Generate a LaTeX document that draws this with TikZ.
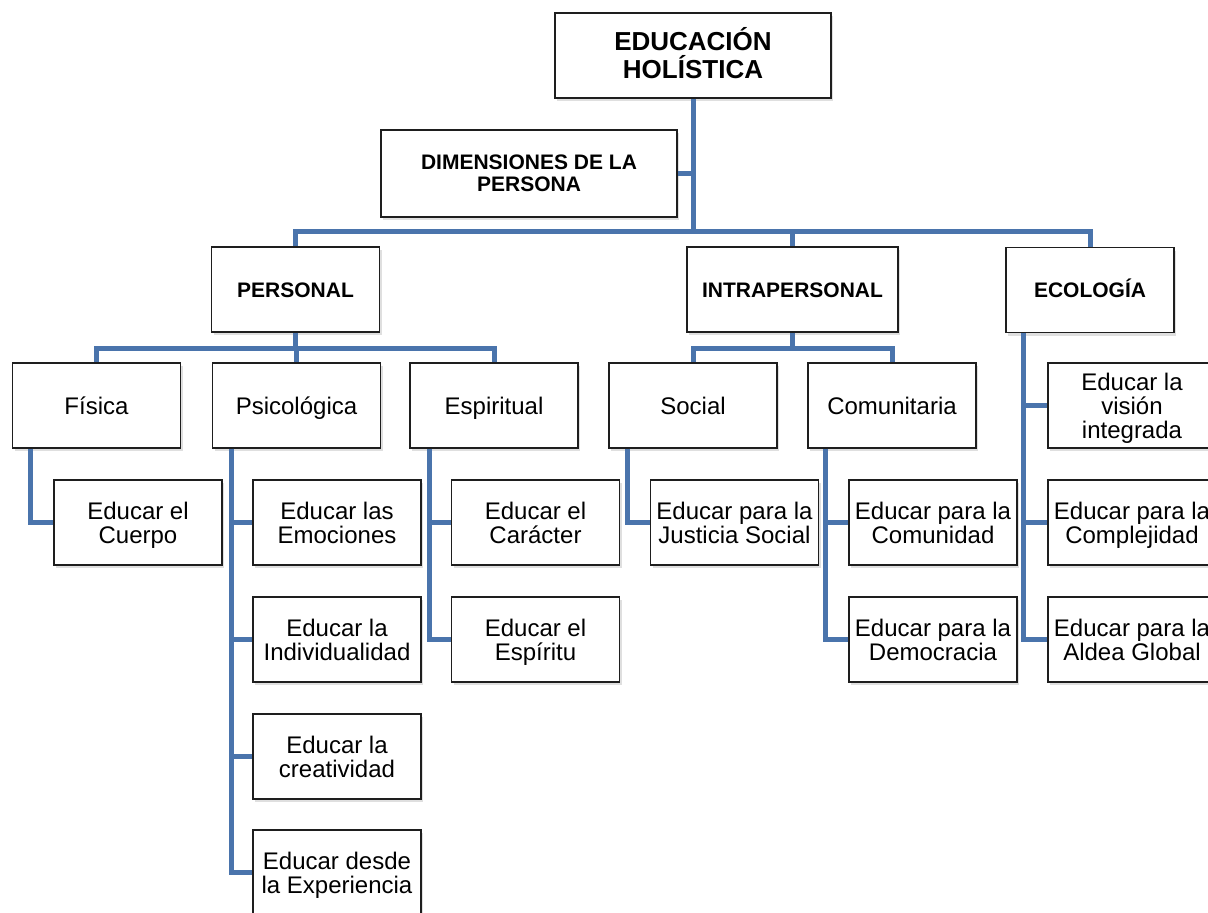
\documentclass[tikz,border=0pt]{standalone}
\usepackage{fontspec}
\setmainfont{Liberation Sans}
\usetikzlibrary{shadows}
\definecolor{linkblue}{RGB}{74,116,172}
\definecolor{boxedge}{RGB}{30,30,30}
\begin{document}
\begin{tikzpicture}[x=1pt,y=-1pt,
  box/.style={draw=boxedge, line width=1.8pt, fill=white, minimum width=168pt,
    minimum height=85pt, align=center, inner sep=2pt, text depth=0pt,
    font=\fontsize{24}{24}\selectfont,
    drop shadow={opacity=0.25, shadow xshift=2pt, shadow yshift=-3pt}},
  single/.style={text height=17.2pt},
  head/.style={box, font=\bfseries\fontsize{21}{22}\selectfont},
  headsingle/.style={text height=15pt},
  conn/.style={draw=linkblue, line width=5pt}]
\clip (0,0) rectangle (1208,913);
\fill[white] (0,0) rectangle (1208,913);
% level 0/1
\node[box, minimum width=276pt, font=\bfseries\fontsize{26}{28}\selectfont] (top) at (693,55.5) {\raisebox{0pt}[18.6pt][0pt]{EDUCACIÓN}\\HOLÍSTICA};
\node[head, minimum width=296pt, minimum height=87pt] (dim) at (529,173.5) {DIMENSIONES DE LA\\PERSONA};
% level 2
\node[head, headsingle] (personal) at (295.5,289.5) {PERSONAL};
\node[head, headsingle, minimum width=211pt] (intra) at (792.5,289.5) {INTRAPERSONAL};
\node[head, headsingle] (eco) at (1090,290) {ECOLOGÍA};
% level 3
\node[box, single] (fisica) at (96.5,405.5) {Física};
\node[box, single] (psico) at (296.5,405.5) {Psicológica};
\node[box, single] (espir) at (494,405.5) {Espiritual};
\node[box, single] (social) at (693,405.5) {Social};
\node[box, single] (comun) at (892,405.5) {Comunitaria};
% level 4
\node[box] (cuerpo) at (138,522.5) {Educar el\\Cuerpo};
\node[box] (emoc) at (337,522.5) {Educar las\\Emociones};
\node[box] (indiv) at (337,639.5) {Educar la\\Individualidad};
\node[box] (creat) at (337,756.5) {Educar la\\creatividad};
\node[box] (exper) at (337,872.5) {Educar desde\\la Experiencia};
\node[box] (carac) at (535.5,522.5) {Educar el\\Carácter};
\node[box] (espiritu) at (535.5,639.5) {Educar el\\Espíritu};
\node[box] (justicia) at (734.5,522.5) {Educar para la\\Justicia Social};
\node[box] (comunidad) at (933,522.5) {Educar para la\\Comunidad};
\node[box] (democ) at (933,639.5) {Educar para la\\Democracia};
\node[box] (vision) at (1132,405.5) {Educar la\\visión\\integrada};
\node[box] (complej) at (1132,522.5) {Educar para la\\Complejidad};
\node[box] (aldea) at (1132,639.5) {Educar para la\\Aldea Global};
% connectors
\coordinate (j1) at (693,231);
\coordinate (j2) at (295.5,348);
\coordinate (j3) at (792.5,348);
\draw[conn] (top.south) -- (j1);
\draw[conn] (dim.east) -- (dim.east -| top.south);
\draw[conn] (j1) -| (personal.north);
\draw[conn] (j1) -| (intra.north);
\draw[conn] (j1) -| (eco.north);
\draw[conn] (personal.south) -- (j2);
\draw[conn] (j2) -| (fisica.north);
\draw[conn] (j2) -| (psico.north);
\draw[conn] (j2) -| (espir.north);
\draw[conn] (intra.south) -- (j3);
\draw[conn] (j3) -| (social.north);
\draw[conn] (j3) -| (comun.north);
\draw[conn] ([xshift=19pt]fisica.south west) |- (cuerpo.west);
\draw[conn] ([xshift=20pt]psico.south west) |- (emoc.west);
\draw[conn] ([xshift=20pt]psico.south west) |- (indiv.west);
\draw[conn] ([xshift=20pt]psico.south west) |- (creat.west);
\draw[conn] ([xshift=20pt]psico.south west) |- (exper.west);
\draw[conn] ([xshift=20pt]espir.south west) |- (carac.west);
\draw[conn] ([xshift=20pt]espir.south west) |- (espiritu.west);
\draw[conn] ([xshift=19pt]social.south west) |- (justicia.west);
\draw[conn] ([xshift=18pt]comun.south west) |- (comunidad.west);
\draw[conn] ([xshift=18pt]comun.south west) |- (democ.west);
\draw[conn] ([xshift=18pt]eco.south west) |- (vision.west);
\draw[conn] ([xshift=18pt]eco.south west) |- (complej.west);
\draw[conn] ([xshift=18pt]eco.south west) |- (aldea.west);
\end{tikzpicture}
\end{document}
